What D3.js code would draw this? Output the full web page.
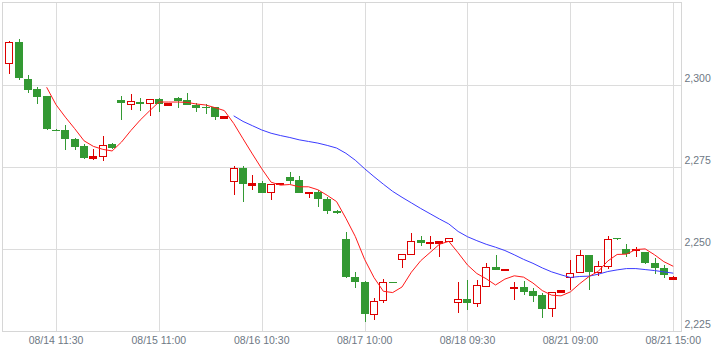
<!DOCTYPE html>
<html>
<head>
<meta charset="utf-8">
<script src="https://cdn.jsdelivr.net/npm/d3@7"></script>
<style>
  html, body { margin: 0; padding: 0; background: #fff; }
  svg { display: block; }
</style>
</head>
<body>
<svg id="chart" width="723" height="353"></svg>
<script>
// ---- data ----
const opens = [2306.4,2313.1,2301.8,2298.8,2296.4,2286.3,2286.1,2283.4,2281.3,2277.5,2278.2,2282.0,
  2295.2,2294.2,2294.7,2294.5,2295.7,2293.8,2295.9,2295.3,2293.9,2293.2,2293.1,2289.8,
  2270.4,2274.5,2269.6,2270.2,2267.3,2269.7,2271.9,2270.9,2266.8,2267.2,2265.3,2261.6,
  2253.0,2241.3,2239.8,2230.1,2234.4,2239.9,2246.9,2248.4,2252.7,2251.7,2251.8,2252.4,
  2233.8,2234.6,2233.4,2238.7,2244.4,2243.7,2238.2,2238.5,2237.2,2235.9,2231.9,2236.9,
  2241.5,2243.0,2248.1,2243.0,2244.8,2253.2,2250.1,2249.6,2249.1,2245.6,2244.2,2241.0];
const highs = [2313.4,2314.0,2302.8,2299.2,2296.6,2286.5,2287.6,2283.9,2281.8,2280.5,2284.5,2282.2,
  2296.4,2297.0,2295.9,2295.7,2295.8,2294.4,2296.2,2297.3,2294.5,2294.0,2293.3,2290.4,
  2275.2,2275.2,2272.4,2270.7,2269.9,2270.1,2273.4,2272.1,2267.3,2267.9,2265.8,2261.9,
  2255.0,2243.0,2240.2,2234.9,2240.7,2240.0,2248.4,2254.7,2253.9,2253.9,2252.4,2253.3,
  2240.0,2240.5,2240.5,2245.6,2248.1,2243.9,2240.0,2240.2,2238.0,2236.6,2236.8,2237.6,
  2246.6,2249.6,2248.2,2246.3,2253.9,2253.3,2251.4,2250.6,2249.2,2247.3,2245.1,2241.6];
const lows = [2303.3,2301.3,2297.4,2294.0,2286.1,2286.0,2280.0,2280.0,2277.5,2277.0,2276.8,2280.5,
  2289.1,2292.2,2291.9,2290.4,2291.6,2293.7,2293.0,2293.8,2291.6,2291.0,2289.1,2289.7,
  2266.3,2264.3,2267.9,2267.0,2265.0,2269.6,2269.9,2266.9,2265.6,2262.6,2260.6,2260.6,
  2241.0,2238.0,2227.8,2228.3,2233.4,2239.7,2244.1,2248.1,2250.8,2250.1,2247.6,2252.3,
  2230.4,2231.4,2232.2,2238.7,2243.5,2243.6,2234.4,2236.0,2233.9,2228.9,2229.3,2236.8,
  2237.5,2243.0,2237.5,2241.8,2243.8,2252.7,2247.6,2247.6,2245.5,2242.5,2241.0,2240.9];
const closes = [2312.9,2302.1,2298.5,2296.4,2286.3,2286.2,2283.3,2281.0,2277.5,2278.2,2281.7,2280.7,
  2294.2,2295.0,2294.2,2295.7,2294.2,2294.3,2294.9,2293.9,2293.0,2293.0,2290.1,2290.3,
  2274.5,2269.6,2270.2,2267.3,2269.7,2270.0,2270.7,2267.0,2267.2,2265.1,2261.6,2260.9,
  2241.5,2239.8,2230.1,2234.1,2239.8,2239.8,2248.4,2252.4,2251.7,2252.0,2252.4,2253.2,
  2234.6,2233.4,2239.0,2244.4,2243.5,2243.8,2238.3,2236.9,2235.6,2231.7,2236.8,2237.5,
  2242.8,2248.1,2243.0,2244.8,2253.0,2252.8,2248.6,2249.9,2245.6,2244.1,2242.2,2241.5];

// 5-period moving average (red), starts at candle 4
const ma5Start = 4;
const ma5 = [2299.2,2293.9,2290.1,2286.6,2282.9,2281.2,2280.3,2279.8,2282.5,2286.0,2289.2,2292.0,
  2294.7,2294.7,2294.7,2294.6,2294.1,2293.8,2293.0,2292.1,2288.2,2283.5,2278.9,2274.4,
  2270.3,2269.4,2269.6,2268.9,2268.9,2268.0,2266.3,2264.4,2259.3,2253.8,2246.8,2241.3,
  2237.1,2236.7,2238.4,2242.9,2246.4,2248.9,2251.4,2252.3,2248.8,2245.1,2242.5,2240.9,
  2239.0,2240.8,2241.8,2241.4,2239.6,2237.3,2235.9,2235.7,2236.9,2239.4,2241.6,2243.2,
  2246.3,2248.3,2248.4,2249.8,2250.0,2248.2,2246.1,2244.7];
// 25-period moving average (blue), starts at candle 24
const ma25Start = 24;
const ma25 = [2290.5,2288.8,2287.5,2286.2,2285.2,2284.5,2283.9,2283.2,2282.7,2282.2,2281.5,2280.7,
  2279.1,2277.0,2274.4,2272.0,2269.7,2267.5,2265.7,2264.0,2262.3,2260.7,2259.1,2257.6,
  2255.3,2253.7,2252.5,2251.4,2250.5,2249.5,2248.2,2246.8,2245.6,2244.2,2243.0,2242.1,
  2241.3,2241.6,2241.7,2242.3,2243.1,2243.6,2244.0,2244.0,2243.7,2243.4,2243.0,2242.6];

const yTicks = [2225, 2250, 2275, 2300];
const xTickIdx = [5, 16, 27, 38, 49, 60, 71];
const xTickLabels = ["08/14 11:30", "08/15 11:00", "08/16 10:30", "08/17 10:00", "08/18 09:30", "08/21 09:00", "08/21 15:00"];

// ---- layout ----
const plot = { left: 2.5, right: 681, top: 2.5, bottom: 331 };
const upColor = "#dd0000", downColor = "#339933";

const svg = d3.select("#chart");
const x = d3.scaleLinear().domain([-0.72, 71.83]).range([plot.left, plot.right]);
const y = d3.scaleLinear().domain([2225, 2325]).range([plot.bottom, plot.top]);

const candles = opens.map((o, i) => ({ i, o, h: highs[i], l: lows[i], c: closes[i] }));

// grid
const grid = svg.append("g").attr("shape-rendering", "crispEdges");
grid.selectAll("line.h").data(yTicks.filter(v => v > 2225)).join("line")
  .attr("x1", plot.left).attr("x2", plot.right)
  .attr("y1", d => Math.round(y(d)) + 0.5).attr("y2", d => Math.round(y(d)) + 0.5)
  .attr("stroke", "#dcdcdc");
grid.selectAll("line.v").data(xTickIdx).join("line")
  .attr("y1", plot.top).attr("y2", plot.bottom)
  .attr("x1", d => Math.round(x(d)) + 0.5).attr("x2", d => Math.round(x(d)) + 0.5)
  .attr("stroke", "#dcdcdc");
grid.append("rect")
  .attr("x", plot.left).attr("y", plot.top)
  .attr("width", plot.right - plot.left).attr("height", plot.bottom - plot.top)
  .attr("fill", "none").attr("stroke", "#d6d6d6");

// axes labels
const font = "'Liberation Sans', Arial, sans-serif";
svg.append("g").selectAll("text").data(yTicks).join("text")
  .attr("x", plot.right + 3.5).attr("y", d => y(d) - 3)
  .attr("font-family", font).attr("font-size", "10.5px").attr("fill", "#6e7884")
  .text(d => d3.format(",")(d));
svg.append("g").selectAll("text").data(xTickIdx).join("text")
  .attr("x", d => x(d)).attr("y", 344)
  .attr("text-anchor", "middle")
  .attr("font-family", font).attr("font-size", "10.5px").attr("fill", "#6e7884")
  .text((d, k) => xTickLabels[k]);

// candles
const bodyW = 8;
const isUp = d => d.c >= d.o;
const bodyH = d => Math.abs(y(d.o) - y(d.c));
const cg = svg.append("g");
const wick = cg.append("g").attr("shape-rendering", "crispEdges");
wick.selectAll("line").data(candles).join("line")
  .attr("x1", d => Math.round(x(d.i)) + 0.5).attr("x2", d => Math.round(x(d.i)) + 0.5)
  .attr("y1", d => y(d.h)).attr("y2", d => y(d.l))
  .attr("stroke", d => isUp(d) ? upColor : downColor).attr("stroke-width", 1);
const bodies = cg.append("g").attr("shape-rendering", "crispEdges");
bodies.selectAll("rect").data(candles).join("rect")
  .attr("x", d => Math.round(x(d.i)) - bodyW / 2 + (isUp(d) ? 0.5 : 0))
  .attr("width", d => isUp(d) ? bodyW - 1 : bodyW)
  .attr("y", d => {
    const top = y(Math.max(d.o, d.c));
    return isUp(d) ? Math.round(top) + 0.5 : Math.round(top);
  })
  .attr("height", d => Math.max(1, Math.round(bodyH(d))))
  .attr("fill", d => isUp(d) ? (bodyH(d) < 2.5 ? upColor : "#ffffff") : downColor)
  .attr("stroke", d => isUp(d) ? upColor : "none")
  .attr("stroke-width", 1.2);

// moving averages
const line = d3.line().x(d => x(d[0])).y(d => y(d[1]));
svg.append("path")
  .datum(ma25.map((v, k) => [k + ma25Start, v]))
  .attr("d", line).attr("fill", "none").attr("stroke", "#3b3bff").attr("stroke-width", 1);
svg.append("path")
  .datum(ma5.map((v, k) => [k + ma5Start, v]))
  .attr("d", line).attr("fill", "none").attr("stroke", "#ff1a1a").attr("stroke-width", 1);
</script>
</body>
</html>
